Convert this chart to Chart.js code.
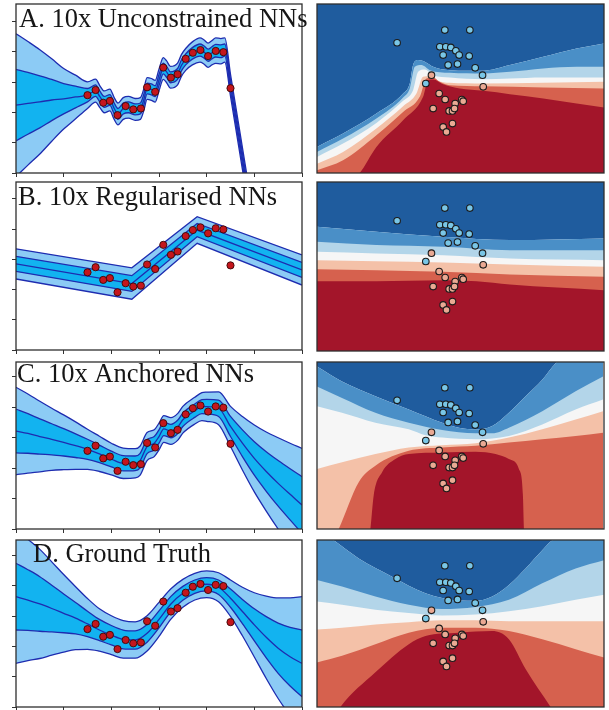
<!DOCTYPE html>
<html><head><meta charset="utf-8">
<script src="https://cdn.jsdelivr.net/npm/chart.js"></script>
<style>
html,body{margin:0;padding:0;background:#fff;}
#wrap{position:relative;width:609px;height:710px;overflow:hidden;background:#fff;}
canvas{position:absolute;}
</style></head><body><div id="wrap"></div>
<script>
// ---------- panel labels ----------
const LABELS = ['A. 10x Unconstrained NNs', 'B. 10x Regularised NNs', 'C. 10x Anchored NNs', 'D. Ground Truth'];

// ---------- regression data points (left panels) ----------
const PTS_X = [1.50, 1.67, 1.83, 1.97, 2.13, 2.30, 2.46, 2.62, 2.75, 2.92, 3.09, 3.25, 3.39, 3.56, 3.71, 3.87, 4.03, 4.19, 4.35, 4.50];
const PTS_Y = [2.57, 2.74, 2.32, 2.38, 1.91, 2.21, 2.10, 2.13, 2.83, 2.68, 3.48, 3.15, 3.26, 3.77, 3.97, 4.06, 3.86, 4.03, 3.99, 2.80];

// ---------- A: unconstrained ----------
const A_X = [0, 0.25, 0.5, 0.75, 1.0, 1.25, 1.5, 1.67, 1.76, 1.85, 1.97, 2.06, 2.14, 2.25, 2.36, 2.5, 2.61, 2.68, 2.75, 2.84, 2.92, 3.0, 3.09, 3.16, 3.24, 3.39, 3.47, 3.56, 3.7, 3.86, 3.94, 4.03, 4.11, 4.19, 4.3, 4.38, 4.5, 4.75, 5.0];
const A_MEAN = [2.24, 2.30, 2.35, 2.41, 2.45, 2.51, 2.57, 2.72, 2.52, 2.35, 2.41, 2.13, 1.95, 2.13, 2.17, 2.10, 2.13, 2.41, 2.79, 2.76, 2.70, 3.07, 3.45, 3.34, 3.16, 3.27, 3.55, 3.75, 3.95, 4.06, 4.00, 3.89, 3.97, 4.04, 4.02, 4.06, 2.90, 0.48, -1.94];
const A_SD = [1.18, 1.02, 0.86, 0.68, 0.50, 0.36, 0.22, 0.19, 0.18, 0.18, 0.18, 0.18, 0.18, 0.18, 0.18, 0.18, 0.18, 0.18, 0.18, 0.18, 0.18, 0.18, 0.18, 0.18, 0.18, 0.18, 0.18, 0.18, 0.19, 0.20, 0.20, 0.20, 0.20, 0.21, 0.21, 0.20, 0.18, 0.18, 0.18];

// ---------- B: regularised ----------
const B_X = [0, 2.43, 3.8, 6];
const B_MEAN = [2.85, 2.20, 3.97, 2.65];
const B_SD = [0.25, 0.26, 0.22, 0.25];

// ---------- C: anchored ----------
const C_X = [0, 0.25, 0.5, 0.75, 1.0, 1.25, 1.5, 1.75, 2.0, 2.25, 2.5, 2.6, 2.75, 2.9, 3.0, 3.1, 3.25, 3.4, 3.5, 3.75, 3.9, 4.0, 4.25, 4.5, 4.75, 5.0, 5.25, 5.5, 5.75, 6.0];
const C_MEAN = [3.22, 3.14, 3.04, 2.95, 2.85, 2.74, 2.62, 2.47, 2.30, 2.16, 2.16, 2.24, 2.71, 2.82, 3.04, 3.29, 3.22, 3.37, 3.59, 3.89, 4.02, 4.02, 3.97, 3.37, 2.82, 2.32, 1.89, 1.50, 1.14, 0.79];
const C_SD = [0.72, 0.65, 0.58, 0.51, 0.45, 0.39, 0.33, 0.29, 0.26, 0.25, 0.24, 0.24, 0.23, 0.22, 0.22, 0.22, 0.22, 0.22, 0.22, 0.22, 0.23, 0.24, 0.27, 0.33, 0.44, 0.55, 0.65, 0.75, 0.84, 0.93];

// ---------- D: ground truth ----------
const D_X = [0, 0.25, 0.5, 0.75, 1.0, 1.25, 1.5, 1.75, 2.0, 2.25, 2.5, 2.75, 3.0, 3.25, 3.5, 3.75, 4.0, 4.25, 4.5, 4.75, 5.0, 5.25, 5.5, 5.75, 6.0];
const D_MEAN = [3.64, 3.53, 3.40, 3.25, 3.09, 2.93, 2.74, 2.54, 2.37, 2.23, 2.21, 2.43, 2.89, 3.40, 3.75, 3.97, 4.05, 3.95, 3.59, 3.15, 2.71, 2.30, 1.94, 1.66, 1.44];
const D_SD = [1.10, 1.00, 0.90, 0.77, 0.64, 0.52, 0.42, 0.35, 0.32, 0.31, 0.30, 0.29, 0.28, 0.25, 0.23, 0.22, 0.22, 0.24, 0.30, 0.40, 0.53, 0.68, 0.83, 0.97, 1.10];

const Y_MAX = [5.58, 5.56, 5.49, 5.51];

// ---------- classification points (right panels) ----------
const BLUE_X = [2.40, 3.83, 4.58, 3.68, 3.86, 4.01, 4.16, 3.78, 4.26, 4.56, 3.93, 4.21, 4.74, 4.96, 3.26];
const BLUE_Y = [3.90, 4.28, 4.28, 3.78, 3.78, 3.76, 3.66, 3.53, 3.53, 3.50, 3.23, 3.26, 3.15, 2.93, 2.68];
const RED_X = [3.43, 4.98, 3.66, 3.84, 4.34, 4.38, 4.14, 3.48, 3.96, 4.06, 4.12, 4.06, 3.78, 3.88];
const RED_Y = [2.93, 2.58, 2.38, 2.20, 2.20, 2.15, 2.08, 1.93, 1.86, 1.86, 1.93, 1.48, 1.38, 1.23];

// ---------- contour level boundaries (top -> bottom): b1..b6 ----------
const RA_B1_X = [0, 0.78, 1.78, 2.58, 2.78, 2.88, 3.03, 3.23, 3.48, 3.98, 4.98, 5.78, 6.78, 7.78, 8.6];
const RA_B1_Y = [0.78, 1.18, 1.78, 2.38, 2.68, 3.23, 3.38, 3.33, 3.18, 3.08, 3.06, 3.23, 3.48, 3.73, 3.88];
const RA_B2_X = [0, 0.78, 1.78, 2.58, 2.78, 2.93, 3.13, 3.38, 3.98, 4.98, 5.78, 6.78, 7.78, 8.6];
const RA_B2_Y = [0.63, 1.03, 1.63, 2.26, 2.53, 3.18, 3.23, 3.08, 3.00, 2.98, 3.03, 3.13, 3.18, 3.18];
const RA_B3_X = [0, 0.78, 1.78, 2.58, 2.88, 3.03, 3.23, 3.48, 3.98, 4.98, 5.78, 6.78, 8.6];
const RA_B3_Y = [0.48, 0.88, 1.50, 2.16, 2.48, 3.03, 3.10, 2.93, 2.86, 2.81, 2.83, 2.86, 2.86];
const RA_B4_X = [0, 0.78, 1.78, 2.58, 2.98, 3.18, 3.38, 3.58, 3.98, 4.98, 6.78, 8.6];
const RA_B4_Y = [0.28, 0.63, 1.33, 2.00, 2.38, 2.88, 2.90, 2.78, 2.70, 2.68, 2.70, 2.73];
const RA_B5_X = [0, 0.78, 1.78, 2.58, 3.08, 3.28, 3.48, 3.68, 3.98, 4.98, 6.78, 8.6];
const RA_B5_Y = [0.08, 0.38, 1.13, 1.83, 2.28, 2.83, 2.86, 2.73, 2.63, 2.60, 2.56, 2.53];
const RA_B6_X = [0, 0.78, 1.28, 1.78, 2.58, 3.18, 3.33, 3.48, 3.78, 4.28, 4.98, 5.78, 6.78, 7.78, 8.6];
const RA_B6_Y = [-0.82, -0.42, 0, 0.78, 1.58, 2.28, 2.78, 2.80, 2.66, 2.53, 2.46, 2.36, 2.23, 2.08, 1.96];

const RB_X = [0, 1.78, 3.78, 5.78, 8.6];
const RB_B1_Y = [3.72, 3.57, 3.42, 3.32, 3.37];
const RB_B2_Y = [3.27, 3.17, 3.12, 3.02, 3.02];
const RB_B3_Y = [2.97, 2.92, 2.87, 2.77, 2.72];
const RB_B4_Y = [2.72, 2.69, 2.65, 2.59, 2.52];
const RB_B5_Y = [2.45, 2.42, 2.37, 2.29, 2.22];
const RB_B6_X = [0, 1.78, 3.78, 4.78, 5.78, 8.6];
const RB_B6_Y = [2.09, 2.09, 2.12, 2.09, 1.99, 1.82];

const RC_B1_X = [0, 0.75, 1.75, 2.75, 3.75, 4.25, 4.75, 5.25, 5.75, 6.25, 6.75, 7.15, 7.75, 8.57];
const RC_B1_Y = [4.92, 4.47, 4.02, 3.62, 3.22, 3.07, 3.02, 3.12, 3.52, 4.02, 4.52, 5.02, 5.42, 5.62];
const RC_B2_X = [0, 0.75, 1.75, 2.75, 3.75, 4.75, 5.25, 5.75, 6.75, 7.75, 8.57];
const RC_B2_Y = [4.32, 3.97, 3.52, 3.22, 3.00, 2.90, 2.90, 3.07, 3.57, 4.17, 4.62];
const RC_B3_X = [0, 0.75, 1.75, 2.75, 3.25, 3.75, 4.75, 5.75, 6.75, 7.75, 8.57];
const RC_B3_Y = [3.72, 3.52, 3.22, 3.02, 2.84, 2.77, 2.72, 2.82, 3.17, 3.62, 3.92];
const RC_B4_X = [0, 0.75, 1.75, 2.75, 3.75, 4.75, 5.75, 6.75, 7.75, 8.57];
const RC_B4_Y = [1.82, 2.02, 2.27, 2.47, 2.54, 2.60, 2.77, 3.02, 3.32, 3.57];
const RC_B5_X = [0, 0.65, 1.25, 1.75, 2.75, 3.75, 4.75, 5.75, 6.75, 7.75, 8.57];
const RC_B5_Y = [-1.28, 0, 1.42, 1.92, 2.37, 2.47, 2.52, 2.62, 2.72, 2.82, 2.92];
const RC_B6_X = [0, 1.45, 1.6, 1.7, 1.95, 2.35, 2.75, 3.75, 4.75, 5.35, 5.75, 6.05, 6.17, 6.2, 6.35, 8.57];
const RC_B6_Y = [-1.78, -0.98, 0, 1.02, 1.72, 2.12, 2.27, 2.32, 2.34, 2.27, 2.12, 1.82, 1.02, 0, -1.28, -1.78];

const RD_B1_X = [0, 0.5, 1.25, 2.25, 3.25, 4.25, 4.75, 5.25, 5.75, 6.25, 6.75, 7.05, 8.6];
const RD_B1_Y = [5.35, 5.05, 4.5, 3.95, 3.45, 3.23, 3.22, 3.35, 3.7, 4.2, 4.75, 5.05, 5.65];
const RD_X = [0, 0.75, 1.75, 2.75, 3.75, 4.75, 5.75, 6.75, 7.75, 8.6];
const RD_B2_Y = [3.85, 3.65, 3.35, 3.10, 2.97, 3.03, 3.25, 3.75, 4.20, 4.45];
const RD_B3_Y = [3.20, 3.10, 2.95, 2.85, 2.77, 2.80, 2.90, 3.05, 3.25, 3.40];
const RD_B4_Y = [2.35, 2.40, 2.50, 2.57, 2.63, 2.63, 2.60, 2.60, 2.60, 2.60];
const RD_B5_Y = [1.35, 1.55, 1.90, 2.25, 2.40, 2.40, 2.30, 2.05, 1.75, 1.50];
const RD_B6_X = [0, 0.7, 1.75, 2.75, 3.25, 4.25, 5.25, 5.75, 6.25, 7.0, 7.75, 8.6];
const RD_B6_Y = [-1.15, 0, 1.05, 1.90, 2.15, 2.25, 2.30, 2.05, 1.15, 0, -1.15, -1.65];

// ---------- styling ----------
const LEFT_FRAMES = [[16, 4, 302, 173], [16, 182, 302, 350], [16, 362, 302, 529], [16, 540, 302, 707]];
const RIGHT_FRAMES = [[317, 4, 604, 173], [317, 182, 604, 351], [317, 362, 604, 529], [317, 540, 604, 707]];
const LABEL_OFF = [[3, 23], [2, 23], [1, 20], [17, 22]];
const OUTER = '#8ccbf5', INNER = '#12b3f0', LINE = '#1e2cb0';
const LEVEL_COLORS = ['#1f5c9e', '#4a8fc7', '#b3d5e9', '#f6f6f6', '#f4c1a8', '#d6614e', '#a3152a'];
const M = 8, AX = 4;

const xy = (xs, ys) => xs.map((x, i) => ({x: x, y: ys[i]}));

function mkCanvas(f) {
  const c = document.createElement('canvas');
  const w = f[2] - f[0] + 2 * M, h = f[3] - f[1] + 2 * M;
  c.width = w; c.height = h;
  c.style.left = (f[0] - M) + 'px'; c.style.top = (f[1] - M) + 'px';
  c.style.width = w + 'px'; c.style.height = h + 'px';
  document.getElementById('wrap').appendChild(c);
  return c;
}

const framePlugin = {
  id: 'frame',
  afterDraw(chart) {
    const a = chart.chartArea, ctx = chart.ctx;
    ctx.save();
    ctx.strokeStyle = '#2e2e2e'; ctx.lineWidth = 1.3;
    ctx.strokeRect(a.left, a.top, a.right - a.left, a.bottom - a.top);
    ctx.restore();
  }
};
const labelPlugin = {
  id: 'panelLabel',
  afterDraw(chart, args, opts) {
    if (!opts || !opts.text) return;
    const a = chart.chartArea, ctx = chart.ctx;
    ctx.save();
    ctx.font = '26.5px "Liberation Serif", "Times New Roman", serif';
    ctx.fillStyle = '#161616';
    ctx.textBaseline = 'alphabetic';
    ctx.fillText(opts.text, a.left + opts.dx, a.top + opts.dy);
    ctx.restore();
  }
};

function leftChart(i, xs, mean, sd, smooth) {
  const up1 = xs.map((x, k) => ({x: x, y: mean[k] + sd[k]}));
  const lo1 = xs.map((x, k) => ({x: x, y: mean[k] - sd[k]}));
  const up2 = xs.map((x, k) => ({x: x, y: mean[k] + 2 * sd[k]}));
  const lo2 = xs.map((x, k) => ({x: x, y: mean[k] - 2 * sd[k]}));
  const mid = xy(xs, mean);
  const ln = (data, extra) => Object.assign({
    data: data, borderColor: LINE, borderWidth: 1.3, pointRadius: 0, fill: false,
    cubicInterpolationMode: smooth ? 'monotone' : 'default', tension: 0
  }, extra || {});
  const grid = {drawOnChartArea: false, drawTicks: true, tickLength: AX, color: '#333', lineWidth: 1};
  new Chart(mkCanvas(LEFT_FRAMES[i]), {
    type: 'line',
    data: {datasets: [
      {data: xy(PTS_X, PTS_Y), showLine: false, pointRadius: 3.6, pointBackgroundColor: '#c4161c',
       pointBorderColor: '#3b0808', pointBorderWidth: 0.9},
      ln(up1, {fill: 2, backgroundColor: INNER}),
      ln(lo1),
      ln(mid),
      ln(up2, {fill: 5, backgroundColor: OUTER}),
      ln(lo2)
    ]},
    options: {
      responsive: false, animation: false, events: [],
      layout: {padding: {left: M - AX, right: M, top: M, bottom: M - AX}},
      plugins: {
        legend: {display: false}, tooltip: {enabled: false},
        filler: {drawTime: 'beforeDatasetsDraw', propagate: false},
        panelLabel: {text: LABELS[i], dx: LABEL_OFF[i][0], dy: LABEL_OFF[i][1]}
      },
      scales: {
        x: {type: 'linear', min: 0, max: 6, afterFit(s) { s.height = AX; },
            ticks: {display: false, stepSize: 1, includeBounds: false}, grid: grid, border: {display: false}},
        y: {type: 'linear', min: 0, max: Y_MAX[i], afterFit(s) { s.width = AX; },
            ticks: {display: false, stepSize: 1, includeBounds: false}, grid: grid, border: {display: false}}
      }
    },
    plugins: [framePlugin, labelPlugin]
  });
}

function rightChart(i, bounds) {
  // bounds: [b1, b2, b3, b4, b5, b6] as point arrays (top to bottom)
  const lvl = (data, color, target) => ({
    data: data, borderWidth: 0, borderColor: 'rgba(0,0,0,0)', pointRadius: 0,
    backgroundColor: color, fill: target, cubicInterpolationMode: 'monotone'
  });
  const pt = (data, color) => ({
    data: data, showLine: false, pointRadius: 3.3, pointBackgroundColor: color,
    pointBorderColor: '#1b1b1b', pointBorderWidth: 1.1
  });
  new Chart(mkCanvas(RIGHT_FRAMES[i]), {
    type: 'line',
    data: {datasets: [
      pt(xy(BLUE_X, BLUE_Y), '#79c6e6'),
      pt(xy(RED_X, RED_Y), '#eaa993'),
      lvl(bounds[5], LEVEL_COLORS[6], 'start'),
      lvl(bounds[4], LEVEL_COLORS[5], 'start'),
      lvl(bounds[3], LEVEL_COLORS[4], 'start'),
      lvl(bounds[2], LEVEL_COLORS[3], 'start'),
      lvl(bounds[1], LEVEL_COLORS[2], 'start'),
      lvl(bounds[0], LEVEL_COLORS[1], 'start'),
      lvl(bounds[0], LEVEL_COLORS[0], 'end')
    ]},
    options: {
      responsive: false, animation: false, events: [],
      layout: {padding: M},
      plugins: {
        legend: {display: false}, tooltip: {enabled: false},
        filler: {drawTime: 'beforeDatasetsDraw', propagate: false}
      },
      scales: {
        x: {type: 'linear', min: 0, max: 8.6, display: false},
        y: {type: 'linear', min: 0, max: 5.06, display: false}
      }
    },
    plugins: [framePlugin]
  });
}

leftChart(0, A_X, A_MEAN, A_SD, true);
leftChart(1, B_X, B_MEAN, B_SD, false);
leftChart(2, C_X, C_MEAN, C_SD, true);
leftChart(3, D_X, D_MEAN, D_SD, true);

rightChart(0, [xy(RA_B1_X, RA_B1_Y), xy(RA_B2_X, RA_B2_Y), xy(RA_B3_X, RA_B3_Y), xy(RA_B4_X, RA_B4_Y), xy(RA_B5_X, RA_B5_Y), xy(RA_B6_X, RA_B6_Y)]);
rightChart(1, [xy(RB_X, RB_B1_Y), xy(RB_X, RB_B2_Y), xy(RB_X, RB_B3_Y), xy(RB_X, RB_B4_Y), xy(RB_X, RB_B5_Y), xy(RB_B6_X, RB_B6_Y)]);
rightChart(2, [xy(RC_B1_X, RC_B1_Y), xy(RC_B2_X, RC_B2_Y), xy(RC_B3_X, RC_B3_Y), xy(RC_B4_X, RC_B4_Y), xy(RC_B5_X, RC_B5_Y), xy(RC_B6_X, RC_B6_Y)]);
rightChart(3, [xy(RD_B1_X, RD_B1_Y), xy(RD_X, RD_B2_Y), xy(RD_X, RD_B3_Y), xy(RD_X, RD_B4_Y), xy(RD_X, RD_B5_Y), xy(RD_B6_X, RD_B6_Y)]);
</script>
</body></html>
